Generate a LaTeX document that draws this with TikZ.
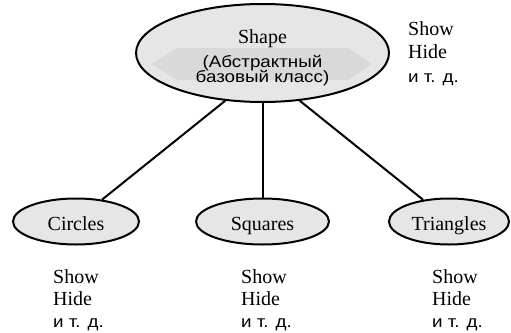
\documentclass[tikz,border=0pt]{standalone}
\usepackage{fontspec}
\setmainfont{Liberation Serif}
\newfontfamily\rusf[FakeStretch=1.14]{Liberation Sans}
\usetikzlibrary{shapes.geometric}
\definecolor{fillgray}{HTML}{E6E6E6}
\definecolor{bandgray}{HTML}{D9D9D9}
\tikzset{
  oval/.style={ellipse, draw=black, line width=2pt, fill=fillgray, inner sep=0pt},
  conn/.style={draw=black, line width=2pt},
  serif/.style={font=\fontsize{20}{22}\selectfont, inner sep=0pt},
  sans/.style={font=\rusf\fontsize{16.5}{18}\selectfont, inner sep=0pt},
}
\begin{document}
\begin{tikzpicture}[x=1pt,y=-1pt]
\useasboundingbox (0,0) rectangle (511,332);
% main ellipse
\node[oval, minimum width=253pt, minimum height=98pt] (shape) at (262.5,53) {};
\fill[bandgray] (152,64) -- (177,48) -- (348,48) -- (372,64) -- (348,80) -- (177,80) -- cycle;
\node[serif, anchor=base] (shapet) at (262.5,43) {Shape};
\node[sans, anchor=base] (abs1) at (262.5,67) {(Абстрактный};
\node[sans, anchor=base] (abs2) at (262.5,82) {базовый класс)};
% children
\node[oval, minimum width=126pt, minimum height=46pt] (circ) at (76,221.5) {};
\node[oval, minimum width=133pt, minimum height=46pt] (sq) at (262.5,221.5) {};
\node[oval, minimum width=120pt, minimum height=46pt] (tri) at (449,221.5) {};
\node[serif, anchor=base] (circt) at (76,230) {Circles};
\node[serif, anchor=base] (sqt) at (262.5,230) {Squares};
\node[serif, anchor=base] (trit) at (449,230) {Triangles};
% connectors
\draw[conn] (shape.232) -- (circ.40);
\draw[conn] (shape.south) -- (sq.north);
\draw[conn] (shape.308) -- (tri.140);
% method lists
\node[serif, anchor=base west] (r1) at (408,35) {Show};
\node[serif, anchor=base west] (r2) at (408,58) {Hide};
\node[sans, anchor=base west] (r3) at (408,82) {и т. д.};
\node[serif, anchor=base west] (c1) at (53,283) {Show};
\node[serif, anchor=base west] (c2) at (53,305) {Hide};
\node[sans, anchor=base west] (c3) at (53,327) {и т. д.};
\node[serif, anchor=base west] (s1) at (241,283) {Show};
\node[serif, anchor=base west] (s2) at (241,305) {Hide};
\node[sans, anchor=base west] (s3) at (241,327) {и т. д.};
\node[serif, anchor=base west] (t1) at (432,283) {Show};
\node[serif, anchor=base west] (t2) at (432,305) {Hide};
\node[sans, anchor=base west] (t3) at (432,327) {и т. д.};
\end{tikzpicture}
\end{document}
